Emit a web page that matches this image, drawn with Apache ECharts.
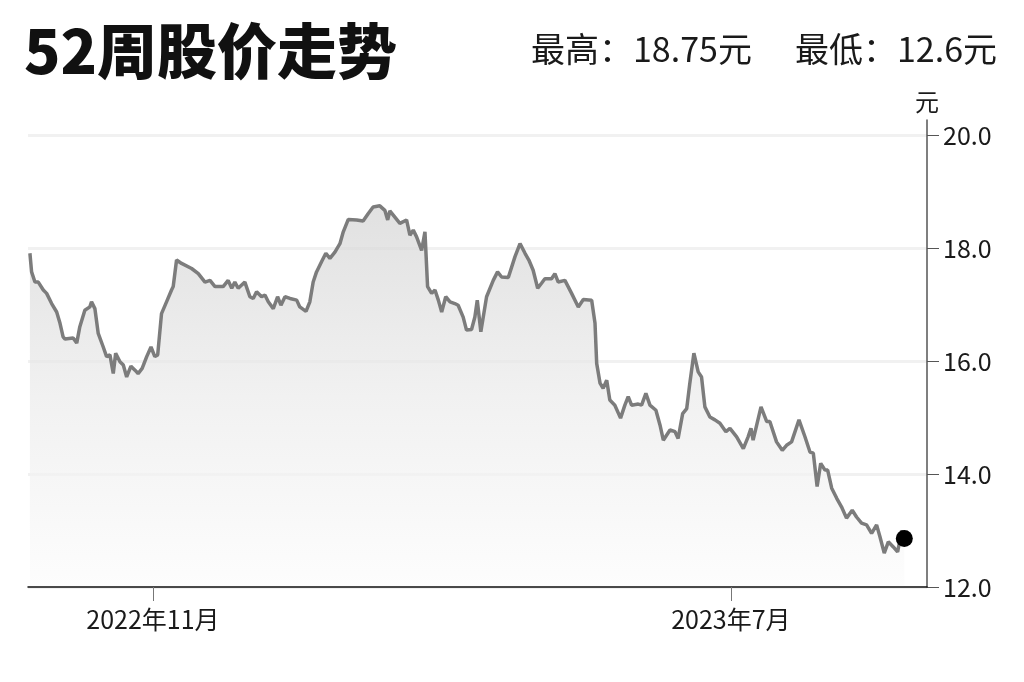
<!DOCTYPE html>
<html>
<head>
<meta charset="utf-8">
<script src="https://cdn.jsdelivr.net/npm/echarts/dist/echarts.min.js"></script>
<style>
html,body{margin:0;padding:0;background:#fff;}
#chart{width:1024px;height:682px;}
</style>
</head>
<body>
<div id="chart"></div>
<script>
// Day offsets relative to 2022-11-01
const priceDays = [
-51.5,-50.8,-49.4,-48.0,-45.9,-44.5,-42.4,-40.3,-38.9,-37.6,-36.8,-33.4,-31.9,-30.6,-28.5,-26.4,-25.7,-24.3,-22.9,-20.8,
-19.4,-18.0,-16.6,-15.6,-13.8,-12.4,-11.0,-9.2,-7.5,-6.2,-4.5,-2.6,-0.8,0.8,2.0,3.6,5.7,7.8,8.5,9.9,
12.0,16.2,19.0,21.8,23.9,26.0,29.4,31.5,33.0,34.3,35.7,38.5,40.6,42.0,43.4,45.5,46.9,48.3,50.4,52.2,
53.6,55.3,57.4,60.2,61.5,64.1,65.7,67.1,68.5,70.6,72.4,74.1,76.2,78.3,79.7,81.8,85.3,88.0,90.1,92.2,
95.0,97.1,98.3,99.2,101.3,103.4,106.2,107.6,109.0,110.4,112.5,113.9,115.0,116.7,118.1,119.5,120.9,122.6,124.4,126.4,
127.8,129.9,131.3,133.4,134.8,135.8,137.3,139.7,142.5,144.3,146.0,148.8,151.6,153.7,155.8,157.4,159.2,161.1,162.7,164.1,
166.9,168.3,169.7,172.5,175.3,178.1,180.2,183.7,185.1,185.8,187.2,188.5,190.0,191.3,193.4,195.8,197.6,199.0,200.4,203.2,
204.6,206.4,208.1,210.6,212.3,213.7,216.5,218.6,219.9,221.8,223.5,224.8,226.5,228.3,229.7,231.1,233.2,235.3,237.4,239.9,
241.6,244.4,247.2,249.2,250.4,251.3,254.6,257.0,258.3,261.1,263.5,265.3,267.4,270.5,273.0,275.1,276.5,278.1,279.6,281.4,
282.5,284.2,286.3,288.3,290.4,292.8,294.6,296.7,298.8,300.9,303.0,304.4,306.2,307.9,310.0,311.8,313.5,314.6
];
// Closing prices (元)
const priceValues = [
17.91,17.58,17.40,17.40,17.26,17.20,17.02,16.87,16.67,16.43,16.39,16.41,16.32,16.61,16.90,16.96,17.05,16.93,16.49,16.25,
16.08,16.11,15.78,16.14,15.99,15.93,15.72,15.91,15.84,15.78,15.87,16.08,16.25,16.08,16.11,16.84,17.05,17.26,17.32,17.79,
17.73,17.64,17.55,17.40,17.43,17.32,17.32,17.43,17.29,17.40,17.29,17.40,17.14,17.11,17.23,17.14,17.17,17.05,16.93,17.14,
16.99,17.14,17.11,17.08,16.96,16.88,17.05,17.40,17.58,17.76,17.91,17.82,17.93,18.08,18.29,18.51,18.50,18.48,18.61,18.73,
18.75,18.67,18.50,18.66,18.55,18.44,18.50,18.23,18.32,18.20,17.96,18.29,17.32,17.20,17.26,17.08,16.87,17.14,17.05,17.02,
16.99,16.78,16.55,16.56,16.78,17.08,16.52,17.14,17.43,17.58,17.49,17.48,17.85,18.08,17.91,17.79,17.61,17.29,17.38,17.46,
17.46,17.55,17.40,17.43,17.20,16.96,17.09,17.08,16.67,15.96,15.61,15.52,15.66,15.31,15.22,14.99,15.22,15.37,15.22,15.24,
15.22,15.43,15.22,15.13,14.87,14.60,14.78,14.75,14.63,15.07,15.16,15.61,16.14,15.81,15.72,15.19,15.01,14.96,14.90,14.75,
14.81,14.66,14.45,14.66,14.81,14.60,15.19,14.93,14.93,14.57,14.42,14.51,14.57,14.96,14.66,14.39,14.37,13.78,14.19,14.07,
14.07,13.75,13.57,13.42,13.22,13.36,13.24,13.13,13.10,12.95,13.10,12.89,12.60,12.80,12.71,12.62,13.00,12.86
];
const xTickDays = [0, 242];
const xTickLabels = ['2022年11月', '2023年7月'];
const yTickValues = [12, 14, 16, 18, 20];
const titleText = '52周股价走势';
const highText = '最高：18.75元';
const lowText = '最低：12.6元';
const unitText = '元';

const FONT = '"Noto Sans CJK SC", "Noto Sans", sans-serif';
const lineData = priceDays.map((d, i) => [d, priceValues[i]]);
const last = lineData[lineData.length - 1];

const chart = echarts.init(document.getElementById('chart'), null, {renderer: 'canvas'});
chart.setOption({
  animation: false,
  backgroundColor: '#ffffff',
  title: [
    {text: titleText, left: 19, top: 16,
     textStyle: {fontFamily: FONT, fontSize: 60, fontWeight: 900, color: '#111'}},
    {text: highText, left: 526, top: 27,
     textStyle: {fontFamily: FONT, fontSize: 34, fontWeight: 'normal', color: '#1a1a1a'}},
    {text: lowText, right: 22, top: 27,
     textStyle: {fontFamily: FONT, fontSize: 34, fontWeight: 'normal', color: '#1a1a1a'}}
  ],
  grid: {left: 28, right: 97, top: 120, bottom: 95, containLabel: false},
  xAxis: {
    type: 'value',
    z: 10,
    min: -52.3,
    max: 324.1,
    axisLine: {show: true, onZero: false, lineStyle: {color: '#111', width: 1.5}},
    axisTick: {show: true, customValues: xTickDays, length: 14, lineStyle: {color: '#777', width: 1}},
    axisLabel: {
      customValues: xTickDays,
      margin: 20,
      fontFamily: FONT, fontSize: 25, color: '#1a1a1a',
      formatter: function (v) {
        const k = xTickDays.indexOf(Math.round(v));
        return k >= 0 ? xTickLabels[k] : '';
      }
    },
    splitLine: {show: false}
  },
  yAxis: {
    type: 'value',
    z: 1,
    position: 'right',
    min: 12,
    max: 20.27,
    name: unitText,
    nameLocation: 'end',
    nameGap: 6,
    nameTextStyle: {fontFamily: FONT, fontSize: 24, color: '#1a1a1a', align: 'center'},
    axisLine: {show: true, onZero: false, lineStyle: {color: '#555', width: 1.5}},
    axisTick: {show: true, customValues: yTickValues, length: 12, lineStyle: {color: '#555', width: 1}},
    axisLabel: {
      customValues: yTickValues,
      margin: 16,
      fontFamily: FONT, fontSize: 25, color: '#1a1a1a',
      formatter: function (v) { return v.toFixed(1); }
    },
    splitLine: {show: true, lineStyle: {color: '#f1f1f1', width: 3}}
  },
  series: [
    {
      type: 'line',
      data: lineData,
      symbol: 'none',
      lineStyle: {color: '#7c7c7c', width: 3.5},
      areaStyle: {
        color: new echarts.graphic.LinearGradient(0, 0, 0, 1, [
          {offset: 0, color: '#d4d4d4'},
          {offset: 0.5, color: '#ebebeb'},
          {offset: 1, color: '#fcfcfc'}
        ])
      },
      z: 2
    },
    {
      type: 'scatter',
      data: [last],
      symbol: 'circle',
      symbolSize: 17,
      itemStyle: {color: '#000', opacity: 1},
      z: 5
    }
  ]
});
</script>
</body>
</html>
